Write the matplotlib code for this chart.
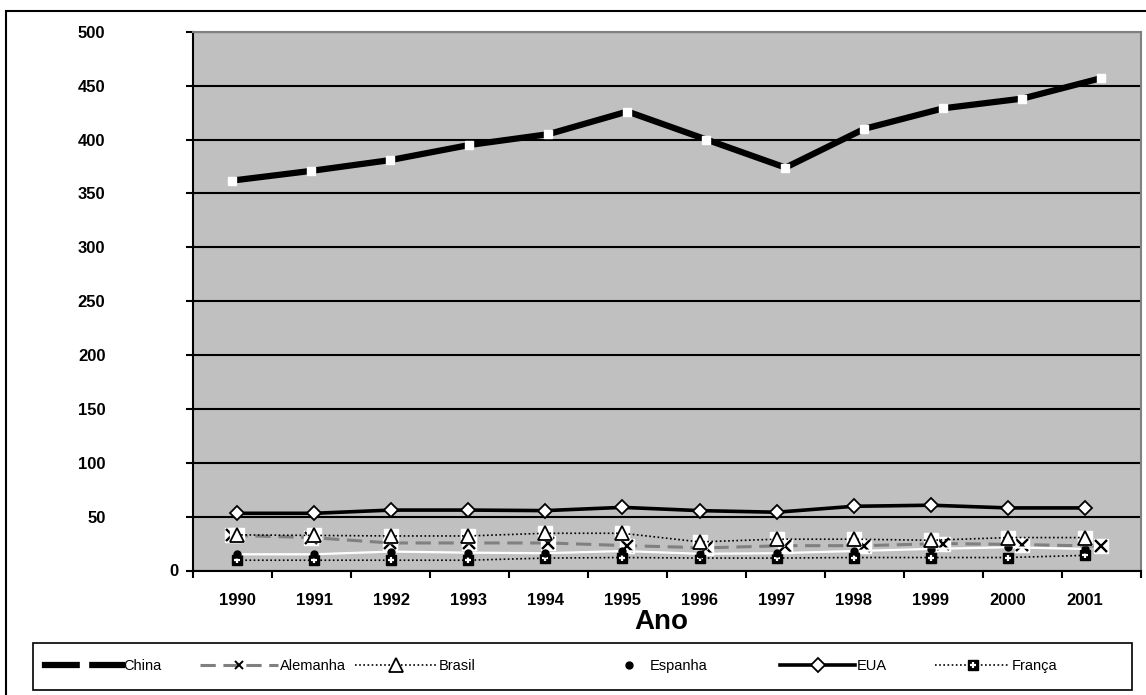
import numpy as np
import matplotlib
matplotlib.use("Agg")
import matplotlib.pyplot as plt
from matplotlib.patches import Rectangle
from matplotlib.legend_handler import HandlerTuple
import matplotlib.transforms as mtransforms

plt.rcParams['font.family'] = ['Liberation Sans', 'DejaVu Sans']

years = ['1990', '1991', '1992', '1993', '1994', '1995',
         '1996', '1997', '1998', '1999', '2000', '2001']
china = [362, 371, 381, 395, 405, 426, 400, 374, 410, 429, 438, 457]
alemanha = [33, 31, 26, 26, 26, 23.5, 21.5, 23.5, 23.5, 25.5, 24.5, 23]
brasil = [33.5, 33, 32.5, 32.5, 35, 35, 27, 29.5, 29.5, 28.5, 31, 31]
espanha = [15.5, 15.5, 18, 17, 16.5, 18.5, 16, 16.5, 18.5, 20.5, 22, 20.5]
eua = [53.5, 53.5, 56.5, 56.5, 56, 59, 56, 54.5, 60, 61, 58.5, 58.5]
franca = [10, 10, 10, 10, 12, 12.5, 12, 12, 12.5, 12.5, 12.5, 14.5]
yticks = [0, 50, 100, 150, 200, 250, 300, 350, 400, 450, 500]
names = ['China', 'Alemanha', 'Brasil', 'Espanha', 'EUA', 'França']

W, H = 1146, 695
x = np.arange(len(years))

fig = plt.figure(figsize=(W / 100, H / 100), dpi=100)
ax = fig.add_axes([0.1684, 0.1784, 0.8272, 0.776])
ax.set_facecolor('#c0c0c0')

# outer chart frame (only left/top are inside the picture)
fig.patches.append(Rectangle((6 / W, -0.05), 1.2, 1.034, transform=fig.transFigure,
                             fill=False, edgecolor='black', linewidth=1.5))

# China and Alemanha sit on the category centres
ax.plot(x, alemanha, color='#808080', lw=2.2, dashes=(5, 2.5), zorder=2)
ax.plot(x, alemanha, ls='none', marker='s', ms=10, mfc='white', mec='white', zorder=3)
ax.plot(x, alemanha, ls='none', marker='x', ms=8, mec='black', mew=1.7, zorder=4)
h_ale, = ax.plot([], [], color='#808080', lw=2.2, dashes=(5, 2.5),
                 marker='x', ms=6, mec='black', mew=1.4)
h_chi, = ax.plot(x, china, color='black', lw=4.5, marker='s', ms=5.5,
                 mfc='white', mec='white', zorder=5)

ax.set_xlim(-0.5, 11.5)
ax.set_ylim(0, 500)
ax.set_xticks(np.arange(-0.5, 12, 1))
ax.set_xticklabels([])
ax.tick_params(axis='x', direction='out', length=5, width=1.5, color='black')
ax.set_yticks(yticks)
ax.set_yticklabels([''] + [str(v) for v in yticks[1:]], fontweight='bold', fontsize=12)
ax.tick_params(axis='y', direction='out', length=5, width=1.5, pad=58)
ax.yaxis.grid(True, color='black', lw=1.5)
ax.set_axisbelow(True)
for s in ['left', 'bottom']:
    ax.spines[s].set_linewidth(1.5)
    ax.spines[s].set_color('black')
for s in ['top', 'right']:
    ax.spines[s].set_linewidth(1.5)
    ax.spines[s].set_color('#808080')
zero_tr = mtransforms.blended_transform_factory(ax.transAxes, ax.transData)
ax.text(-0.0158, 0, '0', transform=zero_tr, ha='right', va='center',
        fontweight='bold', fontsize=12)

# the other series are drawn on a slightly narrower category grid
ax2 = ax.twiny()
ax2.set_xlim(-0.5707, 11.726)
ax2.set_ylim(0, 500)
for s in ax2.spines.values():
    s.set_visible(False)
ax2.xaxis.tick_bottom()
ax2.set_xticks(x)
ax2.set_xticklabels(years, fontweight='bold', fontsize=12)
ax2.tick_params(axis='x', length=0, pad=16)

h_fra, = ax2.plot(x, franca, color='black', lw=1.2, ls=(0, (1, 1.5)),
                  marker='s', ms=7, mfc='black', mec='black', zorder=2)
h_fra_plus, = ax2.plot(x, franca, ls='none', marker='+', ms=5, mec='white', mew=1.6, zorder=3)
h_esp, = ax2.plot(x, espanha, color='white', lw=1.6, marker='o', ms=5,
                  mfc='black', mec='black', zorder=4)
ax2.plot(x, brasil, ls='none', marker='s', ms=10, mfc='white', mec='white', zorder=5)
h_bra, = ax2.plot(x, brasil, color='black', lw=1.2, ls=(0, (1, 1.5)),
                  marker='^', ms=10, mfc='white', mec='black', mew=1.3, zorder=6)
h_eua, = ax2.plot(x, eua, color='black', lw=2.6, marker='D', ms=7,
                  mfc='white', mec='black', mew=1.3, zorder=7)

fig.text(661 / W, 1 - 622 / H, 'Ano', ha='center', va='center',
         fontsize=20, fontweight='bold')

# legend: Excel-like fixed slots inside one box
fig.patches.append(Rectangle((33 / W, 1 - 690 / H), (1132 - 33) / W, 47 / H,
                             transform=fig.transFigure, fill=False,
                             edgecolor='black', linewidth=1.2))
handles = [h_chi, h_ale, h_bra, h_esp, h_eua, (h_fra, h_fra_plus)]
slot_left = [45, 200, 355, 610, 780, 935]      # px, start of each handle
slot_len = [77, 78, 82, 38, 75, 75]            # px, handle length
em = 10.5 * 100 / 72
for h, name, x0, ln in zip(handles, names, slot_left, slot_len):
    fig.legend([h], [name], handler_map={tuple: HandlerTuple(ndivide=1)},
               loc='center left', bbox_to_anchor=(x0 / W, 1 - 666 / H),
               bbox_transform=fig.transFigure, frameon=False,
               handlelength=ln / em, handletextpad=0.12, borderpad=0,
               borderaxespad=0, prop={'size': 10.5})

fig.savefig('out.png', dpi=100)
